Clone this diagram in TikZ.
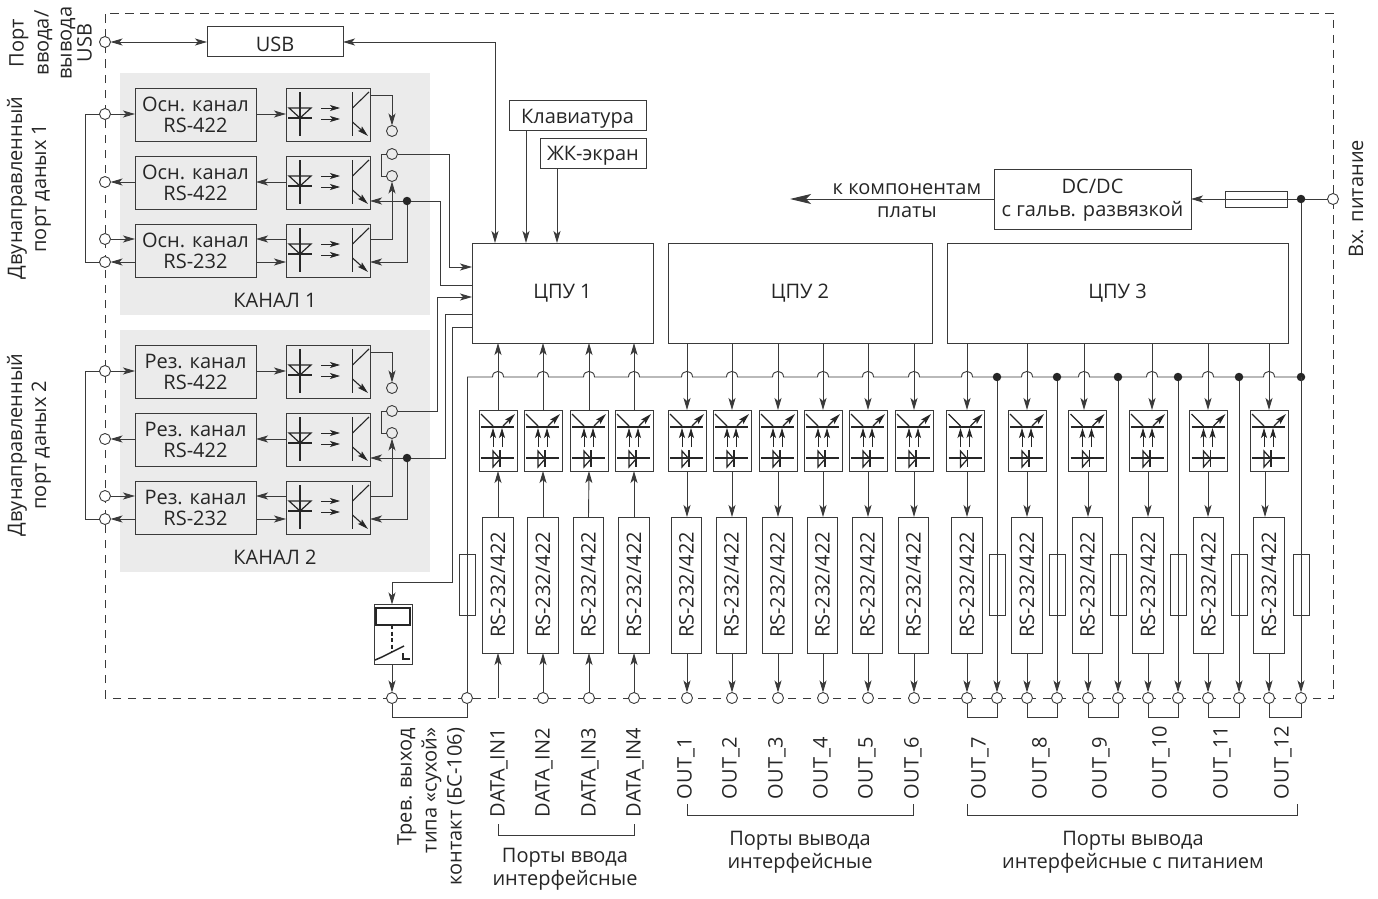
\documentclass[tikz,border=0pt]{standalone}
\usepackage{fontspec}
\setmainfont{Open Sans}
\usetikzlibrary{arrows.meta,calc}
\definecolor{ln}{HTML}{3A3A3A}
\definecolor{tx}{HTML}{262626}
\definecolor{bgr}{HTML}{EBEBEB}
\newcommand\lowtext[2]{\raisebox{-#1}[\height][\depth]{#2}}
\tikzset{
  x=1pt,y=-1pt,
  every node/.style={text=tx,inner sep=0pt,outer sep=0pt,font=\fontsize{20}{21}\selectfont},
  wire/.style={draw=ln,line width=0.9pt},
  arr/.style={wire,-{Stealth[length=12pt,width=7pt,inset=3pt]}},
  arrb/.style={wire,{Stealth[length=12pt,width=7pt,inset=3pt]}-{Stealth[length=12pt,width=7pt,inset=3pt]}},
  boxn/.style={draw=ln,line width=1pt,align=center},
  chbox/.style={boxn,minimum width=121pt,minimum height=53pt},
  optoch/.style={boxn,minimum width=84pt,minimum height=53pt},
  optov/.style={boxn,minimum width=38pt,minimum height=61pt},
  rsbox/.style={boxn,minimum width=30.5pt,minimum height=136pt},
  cpubox/.style={boxn,minimum height=100pt},
  fusev/.style={draw=ln,line width=0.9pt,minimum width=16pt,minimum height=61pt},
  port/.style={circle,draw=ln,line width=0.9pt,fill=white,minimum size=11pt},
  pin/.style={circle,draw=ln,line width=0.9pt,minimum size=11pt},
  dot/.style={circle,fill=black!85,minimum size=8.5pt},
  rot/.style={rotate=90},
  sym/.style={draw=black!85,line width=1.5pt},
  symt/.style={draw=black!85,line width=0.8pt},
  smalltip/.style={symt,-{Stealth[length=10pt,width=6pt,inset=2.5pt]}},
  optoleft/.pic={
    \draw[sym] (14,4)--(14,48) (2,30)--(26,30) (66.5,4)--(66.5,48);
    \draw[symt,line width=1.2pt] (3,20)--(25,20)--(14,30)--cycle;
    \draw[smalltip] (35,20)--(54,20);
    \draw[smalltip] (35,31)--(54,31);
    \draw[symt,line width=1.1pt] (66.5,20)--(83,4);
    \draw[symt,line width=1.1pt,-{Stealth[length=11pt,width=6pt,inset=2pt]}] (66.5,34)--(82,48);
  },
  optoup/.pic={
    \draw[sym] (2,17)--(35,17) (2,48)--(35,48) (21,40)--(21,57);
    \draw[symt,line width=1.2pt] (14,41)--(14,57)--(21,49)--cycle;
    \draw[symt,line width=1.1pt] (2,4)--(14,16);
    \draw[symt,line width=1.1pt,-{Stealth[length=11pt,width=6pt,inset=2pt]}] (24,16)--(36,4);
    \draw[smalltip] (14,37)--(14,18);
    \draw[smalltip] (23,37)--(23,18);
  },
}
\begin{document}
\begin{tikzpicture}
\useasboundingbox (0,0) rectangle (1378,899);
\fill[white] (0,0) rectangle (1378,899);

% grey channel fields
\fill[bgr] (120,73) rectangle (430,315);
\fill[bgr] (120,330) rectangle (430,572);

% dashed frame
\draw[draw=ln,line width=0.95pt,dash pattern=on 8.5pt off 6.5pt] (105,698)--(105,13)--(1333,13)--(1333,698)--cycle;

% USB, keyboard, display, DC/DC
\node[boxn,minimum width=136pt,minimum height=30pt] (usb) at (275,42) {\lowtext{2pt}{USB}};
\node[boxn,minimum width=137pt,minimum height=30pt] (kbd) at (577.5,115) {\lowtext{3.5pt}{Клавиатура}};
\node[boxn,minimum width=106pt,minimum height=30pt] (lcd) at (593,153) {\lowtext{3pt}{ЖК-экран}};
\node[boxn,minimum width=197pt,minimum height=60pt] (dcdc) at (1092.5,199) {};
\node[align=center,font=\fontsize{20}{23}\selectfont] (dcdct) at (1092.5,200.5) {DC/DC\\с гальв. развязкой};

% CPUs
\node[cpubox,minimum width=181pt] (cpu1) at (562.5,293) {ЦПУ 1};
\node[cpubox,minimum width=264pt] (cpu2) at (800,293) {ЦПУ 2};
\node[cpubox,minimum width=341pt] (cpu3) at (1117.5,293) {ЦПУ 3};

% channels
\node[port] (pusb) at (105,42) {};
\foreach \c/\sh/\w in {1/0/Осн.,2/-257/Рез.}{
\begin{scope}[yshift=\sh pt]
  \node[chbox] (a\c) at (195.5,114.5) {\w{} канал\\RS-422};
  \node[chbox] (b\c) at (195.5,182.5) {\w{} канал\\RS-422};
  \node[chbox] (d\c) at (195.5,250.5) {\w{} канал\\RS-232};
  \node[optoch] (oa\c) at (328,114.5) {};
  \node[optoch] (ob\c) at (328,182.5) {};
  \node[optoch] (od\c) at (328,250.5) {};
  \pic at (oa\c.north west) {optoleft};
  \pic at (ob\c.north west) {optoleft};
  \pic at (od\c.north west) {optoleft};
  \node[port] (pa\c) at (105,114) {};
  \node[port] (pb\c) at (105,182) {};
  \node[port] (pc\c) at (105,239) {};
  \node[port] (pd\c) at (105,262) {};
  \node[pin] (ca\c) at (392,131) {};
  \node[pin] (cb\c) at (392,154) {};
  \node[pin] (cc\c) at (392,176) {};
  \node[dot] (j\c) at (407,201) {};
  \node (lab\c) at (275,300) {КАНАЛ \c};
  \draw[wire] (pa\c) -- ++(-20,0) |- (pd\c);
  \draw[arr] (pa\c) -- (pa\c -| a\c.west);
  \draw[arr] (pb\c -| b\c.west) -- (pb\c);
  \draw[arr] (pc\c) -- (pc\c -| d\c.west);
  \draw[arr] (pd\c -| d\c.west) -- (pd\c);
  \draw[arr] (pa\c -| a\c.east) -- (pa\c -| oa\c.west);
  \draw[arr] (pb\c -| ob\c.west) -- (pb\c -| b\c.east);
  \draw[arr] (pc\c -| od\c.west) -- (pc\c -| d\c.east);
  \draw[arr] (pd\c -| d\c.east) -- (pd\c -| od\c.west);
  \draw[arr] (oa\c.east |- 0,95) -| (ca\c);
  \draw[wire] (cb\c) -- ++(-11,0) |- (cc\c);
  \draw[arr] (pc\c -| od\c.east) -| (cc\c);
  \draw[arr] (j\c) -- (j\c -| ob\c.east);
  \draw[arr] (j\c) |- (pd\c -| od\c.east);
\end{scope}
}

% links to CPU 1
\draw[arrb] (pusb) -- (usb);
\draw[arrb] (usb) -- (495,42) -- (cpu1.north -| 495,0);
\draw[arr] (kbd.south -| 526,0) -- (cpu1.north -| 526,0);
\draw[arr] (lcd.south -| 557,0) -- (cpu1.north -| 557,0);
\draw[arr] (cb1) -- (449,154) -- (449,267) -- (cpu1.west |- 0,267);
\draw[wire] (j1) -- (440,201) -- (440,285) -- (cpu1.west |- 0,285);
\draw[arr] (cb2) -- (437,411) -- (437,297) -- (cpu1.west |- 0,297);
\draw[wire] (j2) -- (445,458) -- (445,314) -- (cpu1.west |- 0,314);

% relay
\node[boxn,minimum width=38pt,minimum height=60pt] (relay) at (393,634.5) {};
\draw[draw=black!85,line width=1.5pt] (376,608) rectangle (410,625);
\draw[draw=black!85,line width=1.5pt,dash pattern=on 4pt off 2.5pt] (392,625)--(392,652);
\draw[draw=black!85,line width=1.5pt] (375,660)--(382,657)--(404,646);
\draw[draw=black!85,line width=1.2pt] (403,653)--(403,659)--(410,659);
\draw[arr] (cpu1.west |- 0,327) -- (452,327) -- (452,582) -- (392,582) -- (relay.north -| 392,0);

% power bus
\coordinate (busl) at (467,377);
\node[dot] (busr) at (1301,377) {};
\draw[wire] (busl) foreach \h in {498,543,589,634,687,732,778,823,868,914,967,1027,1084,1152,1208,1269}{
  -- ({\h-5.5},377) .. controls ({\h-5.5},369.5) and ({\h+5.5},369.5) .. ({\h+5.5},377)} -- (busr);

% bottom ports
\node[port] (q1) at (392,698) {};
\node[port] (q2) at (467,698) {};
\draw[arr] (relay.south -| q1) -- (q1);
\draw[wire] (busl) -- (q2);
\draw[wire] (q1.south) -- ++(0,14) -| (q2.south);
\node[fusev] (fq) at (467.5,584.5) {};

% input channels
\coordinate (i1x) at (498,698);
\foreach \i/\x/\r in {1/498/498,2/543/543,3/589/588.5,4/634/634}{
  \node[optov] (oi\i) at (\x,440.5) {};
  \pic at (oi\i.north west) {optoup};
  \node[rsbox] (ri\i) at (\r,585) {\rotatebox{90}{RS-232/422}};
  \draw[arr] (oi\i.north) -- (oi\i.north |- cpu1.south);
  \draw[arr] (ri\i.north) -- (oi\i.south);
  \node[rot,anchor=west] (ti\i) at (\x+1,817) {DATA\_IN\i};
}
\draw[arr] (i1x) -- (ri1.south);
\foreach \i/\x in {2/543,3/589,4/634}{
  \node[port] (pi\i) at (\x,698) {};
  \draw[arr] (pi\i) -- (ri\i.south -| pi\i);
}

% output channels of CPU 2
\foreach \i/\x/\lx in {1/687/687,2/732/732,3/778/778,4/823/823,5/868/868,6/914/914}{
  \node[optov] (ov\i) at (\x,440.5) {};
  \pic at (ov\i.north west) {optoup};
  \node[rsbox] (rv\i) at (\x-0.5,585) {\rotatebox{90}{RS-232/422}};
  \node[port] (pv\i) at (\lx,698) {};
  \draw[arr] (ov\i.north |- cpu2.south) -- (ov\i.north);
  \draw[arr] (ov\i.south) -- (rv\i.north -| ov\i);
  \draw[arr] (rv\i.south -| pv\i) -- (pv\i);
  \node[rot,anchor=west] (tv\i) at (\lx-1,799) {OUT\_\i};
}

% output channels of CPU 3
\foreach \i/\ct/\o/\m/\r/\p/\f/\lx in {
  7/967/965.5/967/967/967/997/980,
  8/1027/1027/1027/1027/1027/1057/1041,
  9/1084/1087.5/1088/1087.5/1088/1118/1101,
  10/1152/1148/1148/1148/1148/1178/1161,
  11/1208/1208.5/1208/1208.5/1208/1239/1222,
  12/1269/1269/1265/1269/1269/1301/1283}{
  \coordinate (ct\i) at (\ct,0);
  \coordinate (mi\i) at (\m,0);
  \node[optov] (ov\i) at (\o,440.5) {};
  \pic at (ov\i.north west) {optoup};
  \node[rsbox] (rv\i) at (\r,585) {\rotatebox{90}{RS-232/422}};
  \node[port] (pv\i) at (\p,698) {};
  \node[port] (ps\i) at (\f,698) {};
  \node[fusev] (fu\i) at (\f,584.5) {};
  \draw[arr] (cpu3.south -| ct\i) -- (ov\i.north -| ct\i);
  \draw[arr] (ov\i.south -| mi\i) -- (rv\i.north -| mi\i);
  \draw[arr] (rv\i.south -| pv\i) -- (pv\i);
  \draw[arr] (ps\i |- 0,377) -- (ps\i);
  \draw[wire] (pv\i.south) -- ++(0,14) -| (ps\i.south);
  \node[rot,anchor=west] (tv\i) at (\lx,799) {OUT\_\i};
}
\foreach \x in {997,1057,1118,1178,1239}{ \node[dot] (bd\x) at (\x,377) {}; }

% power input
\node[port] (pwr) at (1333,199) {};
\node[dot] (pj) at (1301,199) {};
\node[draw=ln,line width=0.9pt,minimum width=62pt,minimum height=16pt] (fp) at (1256,199) {};
\draw[wire] (pwr) -- (pj);
\draw[arr] (pj) -- (dcdc.east);
\draw[wire] (pj) -- (busr);
\coordinate (pout) at (790,199);
\draw[wire,-{Stealth[length=21pt,width=10pt,inset=5pt]}] (dcdc.west) -- (pout);
\node[align=center,font=\fontsize{20}{23}\selectfont] (tk) at (907,201) {к компонентам\\платы};

% brackets
\coordinate (b1a) at (498,824); \coordinate (b1b) at (634,824);
\draw[wire] (b1a) -- ++(0,11) -| (b1b);
\coordinate (b2a) at (687,804); \coordinate (b2b) at (913,804);
\draw[wire] (b2a) -- ++(0,11) -| (b2b);
\coordinate (b3a) at (967,804); \coordinate (b3b) at (1297,804);
\draw[wire] (b3a) -- ++(0,11) -| (b3b);

% labels
\node[rot,align=center,font=\fontsize{20}{23}\selectfont] (l1) at (50.5,43) {Порт\\[2pt]ввода/\\вывода\\[-3pt]USB};
\node[rot,align=center,font=\fontsize{20}{24}\selectfont] (l2) at (29,188) {Двунаправленный\\порт даных 1};
\node[rot,align=center,font=\fontsize{20}{24}\selectfont] (l3) at (29,445) {Двунаправленный\\порт даных 2};
\node[rot] (l4) at (1356,199) {Вх. питание};
\node[rot,anchor=east,align=right,font=\fontsize{20}{25}\selectfont] (l5) at (431,728) {Трев. выход\\типа «сухой»\\контакт (БС-106)};
\node[align=center,font=\fontsize{20}{23}\selectfont] (l6) at (565,869) {Порты ввода\\интерфейсные};
\node[align=center,font=\fontsize{20}{23}\selectfont] (l7) at (800,852) {Порты вывода\\интерфейсные};
\node[align=center,font=\fontsize{20}{23}\selectfont] (l8) at (1133,852) {Порты вывода\\интерфейсные с питанием};
\end{tikzpicture}
\end{document}
